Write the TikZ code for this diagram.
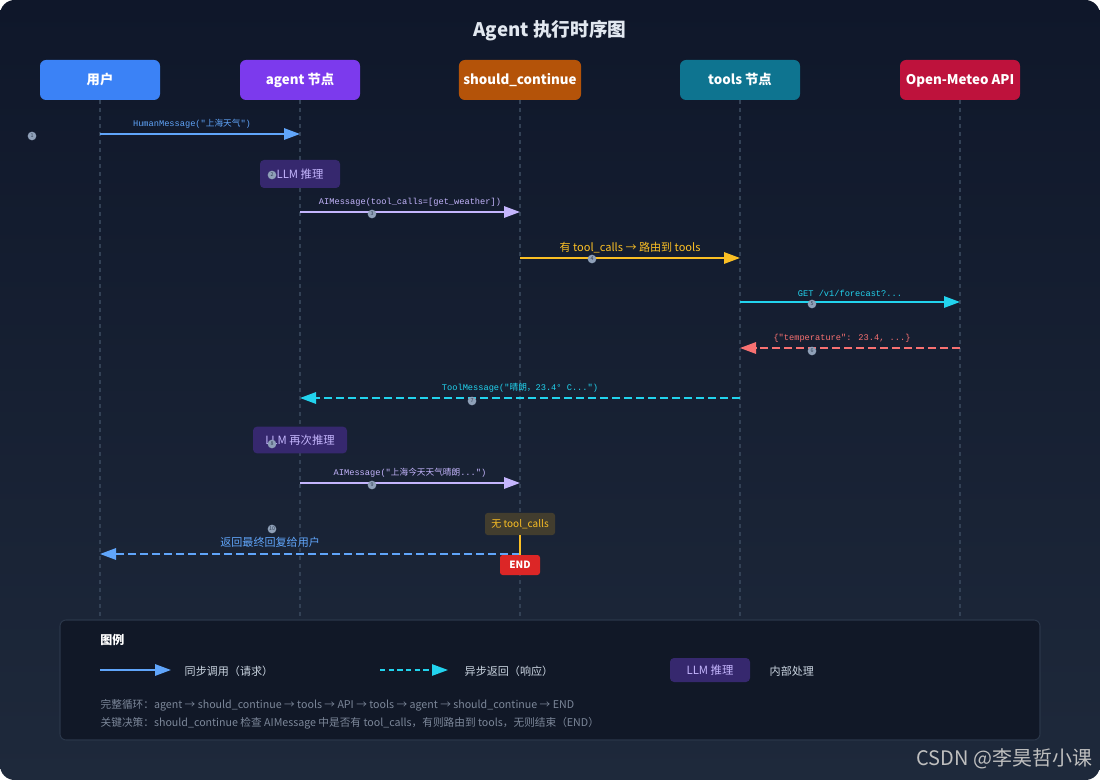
\documentclass[tikz,border=0pt]{standalone}
\usepackage{fontspec}
\setmainfont{Noto Sans CJK SC}
\newfontfamily\monofont{Liberation Mono}
\newfontfamily\cjk{Noto Sans CJK SC}
\usepackage{tikz}
\usetikzlibrary{arrows.meta, positioning, calc}
\usepackage{xcolor}
\definecolor{bgTop}{HTML}{0F172A}
\definecolor{bgBottom}{HTML}{1E293B}
\definecolor{actorBlue}{HTML}{3B82F6}
\definecolor{actorPurple}{HTML}{7C3AED}
\definecolor{actorOrange}{HTML}{B45309}
\definecolor{actorTeal}{HTML}{0E7490}
\definecolor{actorRed}{HTML}{BE123C}
\definecolor{msgBlue}{HTML}{60A5FA}
\definecolor{msgLavender}{HTML}{C4B5FD}
\definecolor{msgAmber}{HTML}{FBBF24}
\definecolor{msgCyan}{HTML}{22D3EE}
\definecolor{msgRed}{HTML}{F87171}
\definecolor{thinkFill}{HTML}{36286E}
\definecolor{noteFill}{HTML}{423D2E}
\definecolor{endRed}{HTML}{DC2626}
\definecolor{lineGray}{HTML}{334155}
\definecolor{legendFill}{HTML}{111827}
\definecolor{legendEdge}{HTML}{2A3649}
\definecolor{legendText}{HTML}{CBD5E1}
\definecolor{hintText}{HTML}{7C8799}
\definecolor{dotGray}{HTML}{8FA0B8}
\definecolor{titleText}{HTML}{E2E8F0}
\newcommand{\zh}[1]{{\cjk #1}}
\tikzset{
  actor/.style={fill=#1, rounded corners=4.5pt, minimum width=90pt, minimum height=30pt,
                text=white, font=\fontsize{10}{12}\selectfont\bfseries, text depth=1.5pt},
  lifeline/.style={draw=lineGray, line width=1.1pt, dash pattern=on 3pt off 3pt},
  msg/.style={draw=#1, line width=1.5pt, -{Triangle[length=12pt, width=8.5pt]}},
  reply/.style={msg=#1, dash pattern=on 6pt off 3pt},
  code/.style={font=\monofont\fontsize{6.5}{7}\selectfont, text=#1, above=0pt},
  think/.style={fill=thinkFill, rounded corners=3pt, text=msgLavender,
                font=\fontsize{8.5}{10}\selectfont, inner sep=0pt},
  stepdot/.style={circle, fill=dotGray, inner sep=0pt, minimum size=6.5pt,
                  text=lineGray, font=\fontsize{4}{4}\selectfont},
  legendtext/.style={anchor=west, text=legendText, font=\fontsize{8.3}{10}\selectfont},
}

\begin{document}
\begin{tikzpicture}[x=0.75pt, y=-0.75pt]
\useasboundingbox (0,0) rectangle (1100,780);
% background
\fill[white] (0,0) rectangle (1100,780);
\shade[top color=bgTop, bottom color=bgBottom, rounded corners=11pt] (0,0) rectangle (1100,780);
\node[text=titleText, font=\fontsize{14}{16}\selectfont\bfseries] (title) at (550,31) {Agent 执行时序图};

% participants
\node[actor=actorBlue] (usr) at (100,80) {用户};
\node[actor=actorPurple] (agt) at (300,80) {agent 节点};
\node[actor=actorOrange] (cond) at (520,80) {should\_continue};
\node[actor=actorTeal] (tls) at (740,80) {tools 节点};
\node[actor=actorRed] (api) at (960,80) {Open-Meteo API};

% lifelines
\coordinate (bot) at (0,618);
\foreach \p in {usr, agt, cond, tls, api}
  \draw[lifeline] (\p.south) -- (\p |- bot);

% message rows
\coordinate (r1) at (0,134);
\coordinate (r3) at (0,212);
\coordinate (r4) at (0,258);
\coordinate (r5) at (0,302);
\coordinate (r6) at (0,348);
\coordinate (r7) at (0,398);
\coordinate (r9) at (0,483);
\coordinate (r11) at (0,554);

\draw[msg=msgBlue] (usr |- r1) -- (agt |- r1)
  node[midway, code=msgBlue, xshift=-6pt] {HumanMessage("\zh{上海天气}")};

\node[think, minimum width=60pt, minimum height=21pt] (llm1) at (300,174) {LLM 推理};

\draw[msg=msgLavender] (agt |- r3) -- (cond |- r3)
  node[midway, code=msgLavender] {AIMessage(tool\_calls=[get\_weather])};

\draw[msg=msgAmber] (cond |- r4) -- (tls |- r4)
  node[midway, above=0pt, text=msgAmber, font=\fontsize{8.3}{10}\selectfont] {有 tool\_calls → 路由到 tools};

\draw[msg=msgCyan] (tls |- r5) -- (api |- r5)
  node[midway, code=msgCyan] {GET /v1/forecast?...};

\draw[reply=msgRed] (api |- r6) -- (tls |- r6)
  node[midway, code=msgRed, xshift=-6pt] {\{"temperature": 23.4, ...\}};

\draw[reply=msgCyan] (tls |- r7) -- (agt |- r7)
  node[midway, code=msgCyan] {ToolMessage("\zh{晴朗，}23.4° C...")};

\node[think, minimum width=70.5pt, minimum height=20pt] (llm2) at (300,440) {LLM 再次推理};

\draw[msg=msgLavender] (agt |- r9) -- (cond |- r9)
  node[midway, code=msgLavender] {AIMessage("\zh{上海今天天气晴朗}...")};

% end of loop
\node[fill=noteFill, rounded corners=2pt, minimum width=52.5pt, minimum height=16.5pt, inner sep=0pt,
      text=msgAmber, font=\fontsize{7.5}{9}\selectfont] (none) at (520,524) {无 tool\_calls};
\draw[reply=msgBlue] (cond |- r11) -- (usr |- r11)
  node[pos=0.595, above=0.5pt, text=msgBlue, font=\fontsize{8.3}{10}\selectfont] {返回最终回复给用户};
\node[fill=endRed, rounded corners=2pt, minimum width=30pt, minimum height=15pt, inner sep=0pt,
      text=white, font=\fontsize{7.5}{9}\selectfont\bfseries] (end) at (520,565) {END};
\draw[draw=msgAmber, line width=1.2pt] (none.south) -- (end.north);

% step markers
\foreach \x/\y/\n in {32/136/1, 272/175/2, 372/214/3, 592/259/4, 812/304/5,
                      812/351/6, 472/401/7, 272/444/8, 372/485/9, 272/529/10}
  \node[stepdot] (s\n) at (\x,\y) {\n};

% legend
\node[fill=legendFill, draw=legendEdge, line width=0.8pt, rounded corners=4.5pt,
      minimum width=735pt, minimum height=90pt] (legend) at (550,680) {};
\node[anchor=west, inner sep=0pt, text=white, font=\fontsize{9}{11}\selectfont\bfseries] (legtitle) at (100,640) {图例};
\coordinate (la) at (100,670);
\coordinate (lb) at (171,670);
\draw[msg=msgBlue] (la) -- (lb);
\node[legendtext] (legsync) at (180,671) {同步调用（请求）};
\coordinate (lc) at (380,670);
\coordinate (ld) at (448,670);
\draw[msg=msgCyan, line width=1.2pt, dash pattern=on 4pt off 2.5pt] (lc) -- (ld);
\node[legendtext] (legasync) at (460,671) {异步返回（响应）};
\node[think, minimum width=60pt, minimum height=18pt] (legthink) at (710,670) {LLM 推理};
\node[legendtext] (leginner) at (765,671) {内部处理};
\node[anchor=west, text=hintText, font=\fontsize{8}{10}\selectfont] (loop) at (96,705)
  {完整循环：agent → should\_continue → tools → API → tools → agent → should\_continue → END};
\node[anchor=west, text=hintText, font=\fontsize{8}{10}\selectfont] (rule) at (96,723)
  {关键决策：should\_continue 检查 AIMessage 中是否有 tool\_calls，有则路由到 tools，无则结束（END）};

% watermark
\node[anchor=east, text=black!25, font=\fontsize{15}{17}\selectfont] (mark) at (1097,759) {CSDN @李昊哲小课};
\end{tikzpicture}
\end{document}
